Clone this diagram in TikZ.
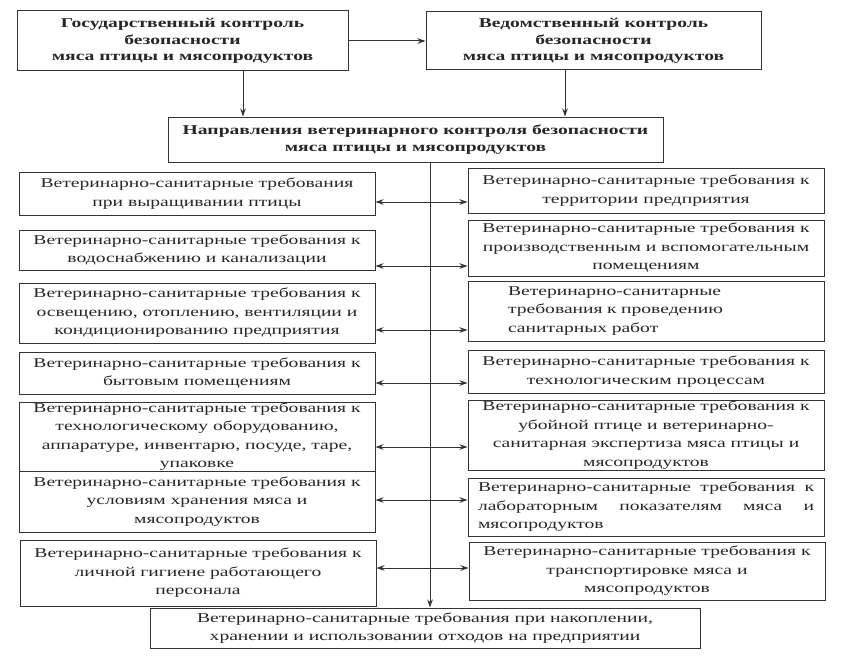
\documentclass[tikz,border=0pt]{standalone}
\usepackage{fontspec}
\setmainfont{Liberation Serif}[FakeStretch=1.45]
\usetikzlibrary{arrows.meta}
\tikzset{x=1pt,y=-1pt,
      every node/.style={text=black!85},
      req/.style={draw=black!80, line width=1pt, align=center, inner sep=0pt,
      font=\fontsize{13.5}{18.5}\selectfont},
      ctrl/.style={req, font=\fontsize{13.5}{16.5}\selectfont\bfseries},
      every edge/.style={draw,->,>={Stealth[length=8,width=5.5]},line width=1pt,draw=black!80}}

\begin{document}
\begin{tikzpicture}
          \useasboundingbox (0,0) rectangle (850,666);
          % control levels
          \node[ctrl, minimum width=331, minimum height=60] (gos) at (182.5,41)
               {Государственный контроль\\безопасности\\мяса птицы и мясопродуктов};
          \node[ctrl, minimum width=335, minimum height=58] (ved) at (593.5,41)
               {Ведомственный контроль\\безопасности\\мяса птицы и мясопродуктов};
          \node[ctrl, minimum width=495, minimum height=45] (napr) at (415.5,139.5)
               {Направления ветеринарного контроля безопасности\\мяса птицы и мясопродуктов};
          % left column
          \node[req, minimum width=356, minimum height=43] (l1) at (197,193.5)
               {Ветеринарно-санитарные требования\\при выращивании птицы};
          \node[req, minimum width=356, minimum height=40] (l2) at (197,250)
               {Ветеринарно-санитарные требования к\\водоснабжению и канализации};
          \node[req, minimum width=356, minimum height=60] (l3) at (197,313)
               {Ветеринарно-санитарные требования к\\освещению, отоплению, вентиляции и\\кондиционированию предприятия};
          \node[req, minimum width=356, minimum height=42] (l4) at (197,373)
               {Ветеринарно-санитарные требования к\\бытовым помещениям};
          \node[req, minimum width=356, minimum height=69] (l5) at (197,436.5)
               {Ветеринарно-санитарные требования к\\технологическому оборудованию,\\аппаратуре, инвентарю, посуде, таре,\\упаковке};
          \node[req, minimum width=356, minimum height=61] (l6) at (197,501.5)
               {Ветеринарно-санитарные требования к\\условиям хранения мяса и\\мясопродуктов};
          \node[req, minimum width=356, minimum height=66] (l7) at (198,573)
               {Ветеринарно-санитарные требования к\\личной гигиене работающего\\персонала};
          % right column
          \node[req, minimum width=356, minimum height=45] (r1) at (646,190.5)
               {Ветеринарно-санитарные требования к\\территории предприятия};
          \node[req, minimum width=356, minimum height=56] (r2) at (646,248)
               {Ветеринарно-санитарные требования к\\производственным и вспомогательным\\помещениям};
          \node[req, minimum width=356, minimum height=60, align=left, text width=276,
               inner xsep=40] (r3) at (646,311)
               {Ветеринарно-санитарные\\требования к проведению\\санитарных работ};
          \node[req, minimum width=356, minimum height=43] (r4) at (646,371.5)
               {Ветеринарно-санитарные требования к\\технологическим процессам};
          \node[req, minimum width=356, minimum height=70] (r5) at (646,435)
               {Ветеринарно-санитарные требования к\\убойной птице и ветеринарно-\\санитарная экспертиза мяса птицы и\\мясопродуктов};
          \node[req, minimum width=356, minimum height=58, align=left, text width=336,
               inner xsep=10] (r6) at (646,507)
               {Ветеринарно-санитарные\hfill требования\hfill к\\лабораторным\hfill показателям\hfill мяса\hfill и\\мясопродуктов};
          \node[req, minimum width=356, minimum height=58] (r7) at (647,571)
               {Ветеринарно-санитарные требования к\\транспортировке мяса и\\мясопродуктов};
          % bottom
          \node[req, minimum width=550, minimum height=40] (otx) at (425,628)
               {Ветеринарно-санитарные требования при накоплении,\\хранении и использовании отходов на предприятии};
          % connectors
          \draw (gos) edge (ved);
          \draw ([xshift=60.5]gos.south) edge ([xshift=60.5]gos.south |- napr.north);
          \draw ([xshift=-28.5]ved.south) edge ([xshift=-28.5]ved.south |- napr.north);
          \draw ([xshift=14.5]napr.south) edge ([xshift=14.5]napr.south |- otx.north);
          \foreach \i/\y in {1/202,2/266,3/330,4/383,5/447,6/500,7/568}{
            \coordinate (c\i) at (430,\y);
            \draw (c\i) edge (l\i.east |- c\i);
            \draw (c\i) edge (r\i.west |- c\i);
          }
\end{tikzpicture}
\end{document}
